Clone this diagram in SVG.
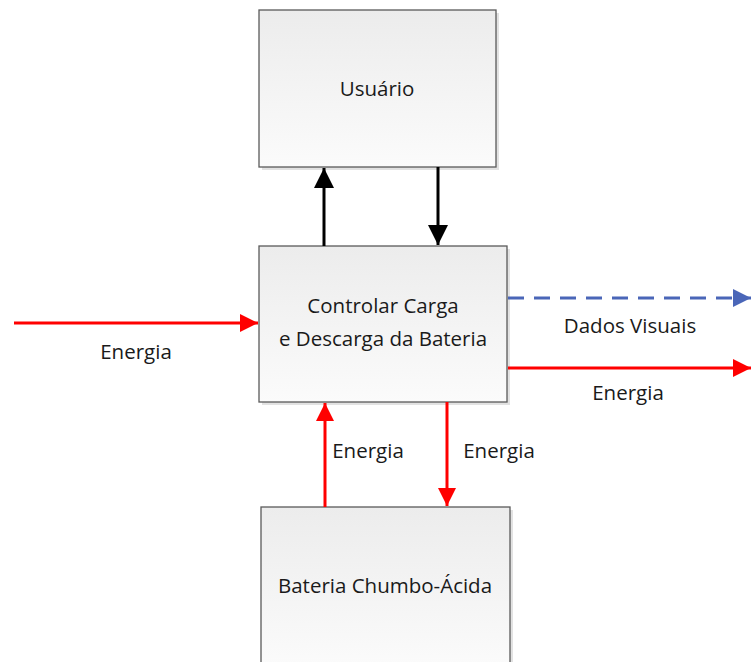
<svg xmlns="http://www.w3.org/2000/svg" width="751" height="662" viewBox="0 0 751 662">
<defs>
<linearGradient id="g" x1="0" y1="0" x2="0" y2="1">
<stop offset="0" stop-color="#ececec"/>
<stop offset="1" stop-color="#fbfbfb"/>
</linearGradient>
<marker id="ab" viewBox="0 0 10 10" refX="10" refY="5" markerWidth="20" markerHeight="20" markerUnits="userSpaceOnUse" orient="auto">
<path d="M0,0 L10,5 L0,10 z" fill="#000"/>
</marker>
<marker id="ar" viewBox="0 0 10 10" refX="10" refY="5" markerWidth="19" markerHeight="18" markerUnits="userSpaceOnUse" orient="auto">
<path d="M0,0 L10,5 L0,10 z" fill="#ff0000"/>
</marker>
<marker id="abl" viewBox="0 0 10 10" refX="10" refY="5" markerWidth="19" markerHeight="18" markerUnits="userSpaceOnUse" orient="auto">
<path d="M0,0 L10,5 L0,10 z" fill="#4a66b8"/>
</marker>
</defs>
<style>
.box{fill:url(#g);stroke:#5a5a5a;stroke-width:1.3}
.sh{fill:#e2e2e2}
text{font-family:"Open Sans","Noto Sans",sans-serif;font-size:20.5px;fill:#1a1a1a;text-anchor:middle}
.blk{stroke:#000;stroke-width:3;fill:none}
.red{stroke:#ff0000;stroke-width:3;fill:none}
.blu{stroke:#4a66b8;stroke-width:3;fill:none;stroke-dasharray:16,10}
</style>
<rect width="751" height="662" fill="#fff"/>
<g id="usuario">
<rect class="sh" x="262" y="13" width="237" height="157"/>
<rect class="box" x="259" y="10" width="237" height="157"/>
<text x="377" y="96">Usuário</text>
</g>
<g id="controlar">
<rect class="sh" x="262" y="249" width="248" height="156"/>
<rect class="box" x="259" y="246" width="248" height="156"/>
<text x="383" y="313">Controlar Carga</text>
<text x="383" y="346">e Descarga da Bateria</text>
</g>
<g id="bateria">
<rect class="sh" x="264" y="510" width="249" height="160"/>
<rect class="box" x="261" y="507" width="249" height="160"/>
<text x="385" y="593">Bateria Chumbo-Ácida</text>
</g>
<g id="connectors">
<line class="blk" x1="324" y1="246" x2="324" y2="168" marker-end="url(#ab)"/>
<line class="blk" x1="438" y1="167" x2="438" y2="245" marker-end="url(#ab)"/>
<line class="red" x1="14" y1="323" x2="258" y2="323" marker-end="url(#ar)"/>
<line class="blu" x1="508" y1="298" x2="751" y2="298" marker-end="url(#abl)"/>
<line class="red" x1="508" y1="368" x2="751" y2="368" marker-end="url(#ar)"/>
<line class="red" x1="325" y1="507" x2="325" y2="403" marker-end="url(#ar)"/>
<line class="red" x1="447" y1="402" x2="447" y2="506" marker-end="url(#ar)"/>
<text x="136" y="359">Energia</text>
<text x="630" y="333">Dados Visuais</text>
<text x="628" y="400">Energia</text>
<text x="368" y="458">Energia</text>
<text x="499" y="458">Energia</text>
</g>
</svg>
